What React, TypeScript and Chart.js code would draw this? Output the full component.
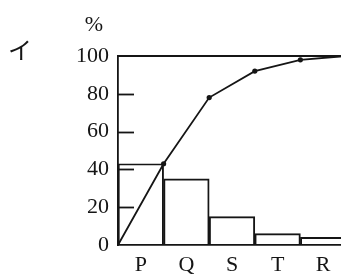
import React, { useEffect, useRef } from "react";
import { Chart, registerables } from "chart.js";

Chart.register(...registerables);

const categories = ["P", "Q", "S", "T", "R"];
const barValues = [43, 35, 15, 6, 4];
const cumulativePositions = [0, 1, 2, 3, 4, 5];
const cumulativeValues = [0, 43, 78, 92, 98, 100];
const cumulativeMarkers = [0, 2.6, 2.6, 2.6, 2.6, 0];
const yTicks = [0, 20, 40, 60, 80, 100];
const unitLabel = "%";
const panelLabel = "イ";

const INK = "#151515";
const SERIF = '"Liberation Serif", "DejaVu Serif", serif';

const decorPlugin = {
  id: "decor",
  afterDatasetsDraw(chart: any) {
    const { ctx, chartArea, scales } = chart;
    const y = scales.y;
    ctx.save();
    ctx.strokeStyle = INK;
    ctx.lineWidth = 1.8;
    for (const v of yTicks) {
      if (v <= 0 || v >= 100) continue;
      const py = Math.round(y.getPixelForValue(v)) + 0.5;
      ctx.beginPath();
      ctx.moveTo(chartArea.left, py);
      ctx.lineTo(chartArea.left + 16, py);
      ctx.stroke();
    }
    const top = y.getPixelForValue(100);
    ctx.beginPath();
    ctx.moveTo(chartArea.left, top);
    ctx.lineTo(chartArea.right, top);
    ctx.stroke();

    ctx.fillStyle = INK;
    ctx.textAlign = "center";
    ctx.textBaseline = "middle";
    ctx.font = `22px ${SERIF}`;
    ctx.fillText(unitLabel, chartArea.left - 24, top - 31);
    ctx.font = '24px "Noto Sans CJK JP", sans-serif';
    ctx.fillText(panelLabel, 20, top - 6);
    ctx.restore();
  },
};

export default function App() {
  const ref = useRef<HTMLCanvasElement | null>(null);

  useEffect(() => {
    if (!ref.current) return;
    const chart = new Chart(ref.current, {
      type: "bar",
      data: {
        labels: categories,
        datasets: [
          {
            type: "bar",
            data: barValues,
            backgroundColor: "rgba(255,255,255,0)",
            borderColor: INK,
            borderWidth: 1.3,
            barPercentage: 1,
            categoryPercentage: 1,
            grouped: false,
            order: 2,
          } as any,
          {
            type: "line",
            xAxisID: "x2",
            data: cumulativePositions.map((p, i) => ({ x: p, y: cumulativeValues[i] })),
            borderColor: INK,
            borderWidth: 1.8,
            pointRadius: cumulativeMarkers,
            pointBackgroundColor: INK,
            pointBorderColor: INK,
            pointBorderWidth: 0,
            tension: 0,
            fill: false,
            order: 0,
            clip: false,
          } as any,
        ],
      },
      options: {
        responsive: true,
        maintainAspectRatio: false,
        animation: false,
        layout: { padding: { top: 56, left: 0, right: 0, bottom: 0 } },
        plugins: {
          legend: { display: false },
          tooltip: { enabled: false },
          title: { display: false },
        },
        scales: {
          x: {
            type: "category",
            offset: true,
            grid: { display: false, drawTicks: false },
            border: { display: true, color: INK, width: 1.8 },
            ticks: {
              color: INK,
              font: { family: SERIF, size: 22 },
              padding: 7,
              maxRotation: 0,
              autoSkip: false,
            },
            afterFit(scale: any) {
              scale.height = 33;
            },
          },
          x2: {
            type: "linear",
            position: "bottom",
            display: false,
            offset: false,
            grid: { offset: false },
            min: 0,
            max: 5,
          },
          y: {
            type: "linear",
            min: 0,
            max: 100,
            afterBuildTicks(scale: any) {
              scale.ticks = yTicks.map((v) => ({ value: v }));
            },
            grid: { display: false, drawTicks: false },
            border: { display: true, color: INK, width: 1.8 },
            ticks: {
              color: INK,
              font: { family: SERIF, size: 22 },
              padding: 9,
            },
            afterFit(scale: any) {
              scale.width = 118;
            },
          },
        },
      } as any,
      plugins: [decorPlugin],
    });
    return () => chart.destroy();
  }, []);

  return (
    <div
      style={{
        position: "fixed",
        left: 0,
        top: 0,
        width: 341,
        height: 278,
        overflow: "hidden",
        background: "#fff",
      }}
    >
      <div style={{ position: "absolute", left: 0, top: 0, width: 346, height: 278 }}>
        <canvas ref={ref} />
      </div>
    </div>
  );
}
